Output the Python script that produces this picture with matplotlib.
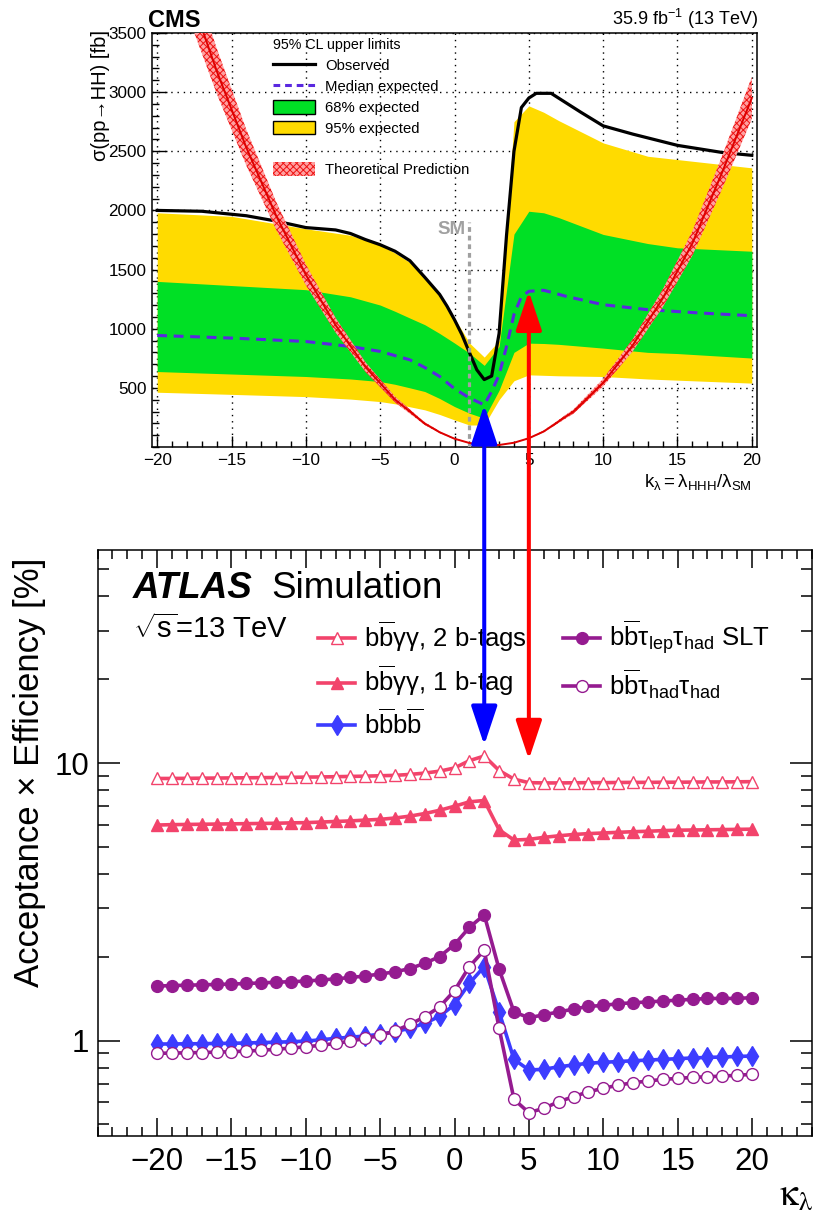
import numpy as np
import matplotlib
matplotlib.use("Agg")
import matplotlib.pyplot as plt
from matplotlib.lines import Line2D
from matplotlib.patches import Patch, ConnectionPatch
from matplotlib.ticker import MultipleLocator, FixedLocator, NullFormatter

plt.rcParams['font.family'] = ['Liberation Sans', 'DejaVu Sans']
plt.rcParams['mathtext.fontset'] = 'custom'
plt.rcParams['mathtext.rm'] = 'Liberation Sans'
plt.rcParams['mathtext.it'] = 'Liberation Sans:italic'
plt.rcParams['mathtext.bf'] = 'Liberation Sans:bold'
plt.rcParams['hatch.linewidth'] = 0.7

# ---------------- CMS: 95% CL upper limits on sigma(pp->HH) [fb] ----------------
obs_k = [-20, -17, -14, -12, -10, -8, -7, -6, -5, -4, -3, -2, -1, -0.5, 0, 0.5, 1, 1.5,
         2, 2.5, 3, 3.5, 4, 4.5, 5, 5.5, 6.5, 7.5, 8.5, 10, 12, 15, 18, 20]
obs_xs = [2000, 1993, 1955, 1910, 1855, 1835, 1805, 1754, 1710, 1655, 1575, 1435, 1290,
          1190, 1076, 950, 800, 653, 570, 600, 960, 1790, 2500, 2870, 2950, 2990, 2990,
          2910, 2830, 2715, 2645, 2550, 2490, 2466]

exp_k = [-20, -15, -10, -7, -5, -3, -2, -1, 0, 1, 2, 2.5, 3, 3.5, 4, 4.5, 5, 6, 7.5, 10,
         13, 16.5, 20]
exp_xs = [943, 921, 892, 850, 808, 737, 672, 596, 493, 415, 356, 470, 610, 850, 1120,
          1270, 1316, 1325, 1274, 1203, 1161, 1133, 1110]

band_k = [-20, -15, -10, -7, -5, -4, -3, -2, -1, 0, 1, 2, 3, 4, 5, 6, 7, 10, 13, 15, 20]
band95_hi = [1980, 1950, 1845, 1790, 1710, 1640, 1560, 1440, 1290, 1090, 880, 760, 900,
             2750, 2884, 2830, 2760, 2571, 2458, 2430, 2360]
band68_hi = [1400, 1365, 1330, 1270, 1200, 1147, 1090, 1034, 960, 879, 794, 690, 850,
             1800, 1993, 1980, 1940, 1797, 1720, 1684, 1655]
band68_lo = [638, 617, 596, 575, 553, 530, 500, 469, 410, 342, 286, 243, 480, 800, 878,
             875, 868, 836, 800, 790, 752]
band95_lo = [463, 445, 426, 405, 384, 365, 340, 314, 275, 229, 186, 186, 400, 560, 610,
             606, 602, 596, 575, 565, 540]

theory_k = [-20, -18, -16, -14, -12, -10, -8, -6, -4, -2, -1, 0, 1, 2, 3, 4, 5, 6, 8, 10,
            12, 14, 16, 18, 20]
theory_xs = [4700, 3904, 3180, 2530, 1956, 1456, 1030, 678, 401, 198, 125, 70, 34, 16, 17,
             36, 74, 131, 300, 544, 862, 1255, 1721, 2320, 2950]
theory_rel_unc = 0.06

sm_kappa = 1.0

# ---------------- ATLAS: acceptance x efficiency [%] ----------------
kappa = list(range(-20, 21))
bbyy_2tag = [8.80, 8.80, 8.81, 8.82, 8.83, 8.84, 8.85, 8.86, 8.87, 8.88, 8.90, 8.91, 8.93,
             8.95, 8.97, 9.00, 9.03, 9.10, 9.20, 9.35, 9.60, 10.2, 10.6, 9.40, 8.75, 8.50,
             8.48, 8.48, 8.49, 8.50, 8.50, 8.51, 8.52, 8.52, 8.53, 8.53, 8.54, 8.55, 8.55,
             8.56, 8.57]
bbyy_1tag = [5.98, 6.00, 6.01, 6.02, 6.03, 6.04, 6.05, 6.06, 6.07, 6.09, 6.10, 6.13, 6.16,
             6.19, 6.23, 6.27, 6.34, 6.44, 6.58, 6.76, 6.99, 7.25, 7.33, 5.75, 5.28, 5.31,
             5.40, 5.47, 5.53, 5.57, 5.60, 5.63, 5.66, 5.68, 5.71, 5.73, 5.74, 5.75, 5.76,
             5.77, 5.78]
bbbb = [0.973, 0.974, 0.975, 0.976, 0.978, 0.979, 0.982, 0.985, 0.988, 0.992, 0.997, 1.008,
        1.020, 1.030, 1.040, 1.056, 1.077, 1.110, 1.155, 1.225, 1.350, 1.610, 1.850, 1.270,
        0.857, 0.785, 0.789, 0.806, 0.818, 0.830, 0.836, 0.842, 0.847, 0.852, 0.857, 0.862,
        0.867, 0.871, 0.874, 0.878, 0.881]
bbtt_slt = [1.574, 1.580, 1.585, 1.590, 1.595, 1.600, 1.608, 1.615, 1.625, 1.632, 1.640,
            1.655, 1.670, 1.690, 1.710, 1.740, 1.770, 1.820, 1.900, 2.010, 2.220, 2.560,
            2.840, 1.810, 1.270, 1.210, 1.240, 1.270, 1.300, 1.330, 1.340, 1.360, 1.370,
            1.380, 1.390, 1.400, 1.410, 1.420, 1.420, 1.420, 1.430]
bbtt_hadhad = [0.901, 0.903, 0.905, 0.907, 0.910, 0.913, 0.918, 0.924, 0.932, 0.941, 0.951,
               0.963, 0.978, 0.997, 1.020, 1.045, 1.085, 1.145, 1.220, 1.325, 1.515, 1.850,
               2.120, 1.108, 0.615, 0.551, 0.571, 0.603, 0.629, 0.655, 0.674, 0.692, 0.706,
               0.716, 0.726, 0.732, 0.738, 0.742, 0.746, 0.751, 0.757]

# arrows linking the two panels (kappa, tip in the lower panel)
arrow_kappa = [2.0, 5.0]
arrow_low_tip = [11.6, 10.3]
arrow_colors = ['#0000ff', '#ff0000']

# ------------------------------------------------------------------
W, H = 815, 1215
fig = plt.figure(figsize=(W / 100, H / 100), dpi=100)


def fx(px):
    return px / W


def fy(py):
    return 1 - py / H


# ================= upper panel =================
ax1 = fig.add_axes([fx(152), fy(447), 605 / W, 414 / H])
ax1.fill_between(band_k, band95_lo, band95_hi, color='#ffdb00', lw=0, zorder=1)
ax1.fill_between(band_k, band68_lo, band68_hi, color='#00e025', lw=0, zorder=2)
ax1.plot(exp_k, exp_xs, color='#5a28e0', ls=(0, (3.2, 2.2)), lw=2.2, zorder=3)
ax1.plot(obs_k, obs_xs, color='black', lw=2.3, zorder=4)
ax1.plot([sm_kappa, sm_kappa], [0, 1900], color='#a0a0a0', lw=2.3,
         ls=(0, (1.5, 1.2)), zorder=4.5)
ax1.text(sm_kappa - 0.25, 1800, 'SM', color='#a0a0a0', fontsize=13.5, weight='bold',
         ha='right', va='baseline', zorder=4.5)
th = np.array(theory_xs, dtype=float)
ax1.fill_between(theory_k, th * (1 - theory_rel_unc), th * (1 + theory_rel_unc),
                 facecolor='#ffa0a0', edgecolor='#ee1111', hatch='xxxxx', lw=0,
                 zorder=5)
ax1.plot(theory_k, th, color='#dd0000', lw=1.4, zorder=6)

ax1.set_xlim(-20.35, 20.35)
ax1.set_ylim(0, 3500)
ax1.xaxis.set_major_locator(MultipleLocator(5))
ax1.xaxis.set_minor_locator(MultipleLocator(1))
ax1.yaxis.set_major_locator(FixedLocator([500, 1000, 1500, 2000, 2500, 3000, 3500]))
ax1.yaxis.set_minor_locator(MultipleLocator(100))
ax1.grid(True, which='major', color='black', lw=1.0, ls=(0, (1, 3.5)))
ax1.set_axisbelow(True)
ax1.tick_params(axis='x', which='major', direction='in', length=8, width=1.0,
                labelsize=12.3, pad=4.5)
ax1.tick_params(axis='x', which='minor', direction='in', length=4.3, width=1.0)
ax1.tick_params(axis='y', which='major', direction='in', length=11, width=1.0,
                labelsize=12.3, pad=4)
ax1.tick_params(axis='y', which='minor', direction='in', length=5, width=1.0)
for s in ax1.spines.values():
    s.set_linewidth(1.1)

cms_handles = [
    Line2D([], [], color='black', lw=2.3),
    Line2D([], [], color='#5a28e0', lw=2.2, ls=(0, (2.2, 1.6))),
    Patch(facecolor='#00e025', edgecolor='black', lw=1.0),
    Patch(facecolor='#ffdb00', edgecolor='black', lw=1.0),
    Line2D([], [], color='none'),
    Patch(facecolor='#ffa0a0', edgecolor='#ee1111', hatch='xxxxx', lw=0),
]
cms_labels = ['Observed', 'Median expected', '68% expected', '95% expected', ' ',
              'Theoretical Prediction']
leg1 = ax1.legend(cms_handles, cms_labels, title='95% CL upper limits',
                  loc='upper left', bbox_to_anchor=(fx(273), fy(38)),
                  bbox_transform=fig.transFigure, frameon=False, fontsize=10.7,
                  title_fontsize=10.3, alignment='left', handlelength=2.8,
                  handleheight=1.05, labelspacing=0.4, handletextpad=0.7,
                  borderpad=0, borderaxespad=0)

fig.text(fx(148), fy(27), 'CMS', fontsize=17, weight='bold', ha='left', va='baseline')
fig.text(fx(758), fy(25), r'35.9 fb$^{-1}$ (13 TeV)', fontsize=13, ha='right',
         va='baseline')
fig.text(fx(100), fy(30), 'σ(pp→HH) [fb]', rotation=90, fontsize=14.5, ha='center',
         va='top')
fig.text(fx(752), fy(487), r'$\mathrm{k_{\lambda}=\lambda_{HHH}/\lambda_{SM}}$',
         fontsize=13.5, ha='right', va='baseline')

# ================= lower panel =================
ax2 = fig.add_axes([fx(97.5), fy(1136), 714 / W, 586 / H])
pink = '#f2436b'
purple = '#951b90'
blue = '#3c3cff'
ms = 8.5
BB = r'\mathrm{b}\overline{\mathrm{b}}'
ax2.plot(kappa, bbyy_2tag, color=pink, lw=2.6, marker='^', ms=ms, mfc='white',
         mec=pink, mew=1.0, label=r'$' + BB + r'\mathrm{\gamma\gamma}$, 2 b-tags')
ax2.plot(kappa, bbyy_1tag, color=pink, lw=2.6, marker='^', ms=ms, mfc=pink, mec=pink,
         label=r'$' + BB + r'\mathrm{\gamma\gamma}$, 1 b-tag')
ax2.plot(kappa, bbbb, color=blue, lw=2.6, marker='d', ms=10, mfc=blue, mec=blue,
         label=r'$' + BB + BB + r'$')
ax2.plot(kappa, bbtt_slt, color=purple, lw=2.6, marker='o', ms=ms, mfc=purple, mec=purple,
         label=r'$' + BB + r'\mathrm{\tau_{lep}\tau_{had}}$ SLT')
ax2.plot(kappa, bbtt_hadhad, color=purple, lw=2.6, marker='o', ms=ms, mfc='white',
         mec=purple, mew=1.0, label=r'$' + BB + r'\mathrm{\tau_{had}\tau_{had}}$')

ax2.set_yscale('log')
ax2.set_xlim(-24, 24)
ax2.set_ylim(0.454, 58.5)
ax2.xaxis.set_major_locator(MultipleLocator(5))
ax2.xaxis.set_minor_locator(MultipleLocator(1))
ax2.yaxis.set_major_locator(FixedLocator([1, 10]))
ax2.set_yticklabels(['1', '10'])
ax2.yaxis.set_minor_locator(FixedLocator([0.5, 0.6, 0.7, 0.8, 0.9, 2, 3, 4, 5, 6, 7, 8,
                                          9, 20, 30, 40, 50]))
ax2.yaxis.set_minor_formatter(NullFormatter())
ax2.tick_params(which='both', direction='in', top=True, right=True, width=1.1)
ax2.tick_params(which='major', length=13, labelsize=22.5, pad=8)
ax2.tick_params(which='minor', length=6.5)
ax2.tick_params(axis='y', which='major', length=16, pad=6)
ax2.tick_params(axis='y', which='minor', length=8)
for s in ax2.spines.values():
    s.set_linewidth(1.1)

ax2.legend(ncol=2, loc='upper left', bbox_to_anchor=(fx(318), fy(619)),
           bbox_transform=fig.transFigure, frameon=False, fontsize=18.5,
           handlelength=1.45, handletextpad=0.35, columnspacing=1.4, labelspacing=0.4,
           borderpad=0, borderaxespad=0)

fig.text(fx(133), fy(598), 'ATLAS', fontsize=26.5, weight='bold', style='italic',
         ha='left', va='baseline')
fig.text(fx(271), fy(598), 'Simulation', fontsize=26.5, ha='left', va='baseline')
fig.text(fx(133), fy(638), r'$\sqrt{\mathrm{s}}$=13 TeV', fontsize=21, ha='left',
         va='baseline')
fig.text(fx(30), fy(558), 'Acceptance × Efficiency [%]', rotation=90, fontsize=25,
         ha='center', va='top')
fig.text(fx(779), fy(1206), r'$\mathrm{\kappa_{\lambda}}$', fontsize=27,
         math_fontfamily='stix', ha='left', va='baseline')

# ================= connecting arrows =================
for k, low, c in zip(arrow_kappa, arrow_low_tip, arrow_colors):
    top = float(np.interp(k, exp_k, exp_xs))
    con = ConnectionPatch(xyA=(k, top), coordsA=ax1.transData, xyB=(k, low),
                          coordsB=ax2.transData,
                          arrowstyle='<|-|>,head_length=2.4,head_width=0.8',
                          mutation_scale=10, color=c, lw=2.9, zorder=20)
    fig.add_artist(con)

fig.savefig('out.png', dpi=100)
